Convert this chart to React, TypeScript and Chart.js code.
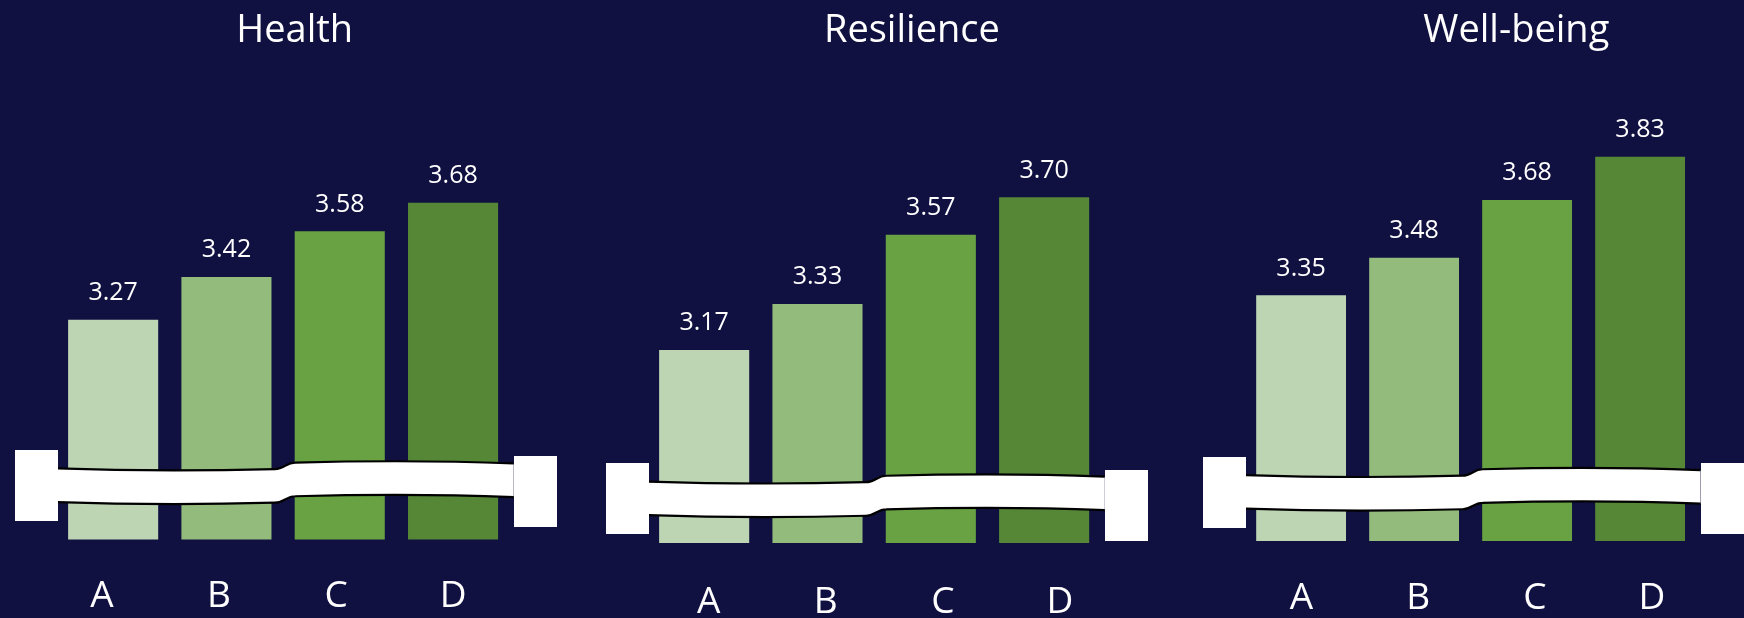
import React, { useEffect, useRef } from "react";
import { Chart, registerables } from "chart.js";

Chart.register(...registerables);

// ---------- data ----------
const categories = ["A", "B", "C", "D"];
const panelTitles = ["Health", "Resilience", "Well-being"];
const healthValues = [3.27, 3.42, 3.58, 3.68];
const resilienceValues = [3.17, 3.33, 3.57, 3.7];
const wellbeingValues = [3.35, 3.48, 3.68, 3.83];
const barColors = ["#BED5B4", "#92BB7C", "#68A243", "#558737"];
const yMin = 2.5;
const yMax = 4.0;
const breakValues = [2.69, 2.655, 2.67];

// ---------- layout ----------
const W = 1744;
const H = 618;
const BG = "#111141";
const FONT = '"Open Sans", "Noto Sans", sans-serif';

const panelLayout = [
  { left: 56.5, right: 509.7, top: 111.4, bottom: 539.5, titleX: 294.7, labelShift: -5.5, labelBaseline: 607 },
  { left: 647.5, right: 1100.8, top: 110.9, bottom: 543, titleX: 911.9, labelShift: 10.2, labelBaseline: 613 },
  { left: 1244.6, right: 1696.6, top: 107.5, bottom: 541, titleX: 1516.3, labelShift: 6, labelBaseline: 609 },
];

const panelValues = [healthValues, resilienceValues, wellbeingValues];

type Pt = [number, number];

function makePanelPlugin(idx: number) {
  return {
    id: "panelDecor" + idx,
    afterDatasetsDraw(chart: any) {
      const ctx = chart.ctx as CanvasRenderingContext2D;
      const area = chart.chartArea;
      const xs = chart.scales.x;
      const ys = chart.scales.y;
      const lay = panelLayout[idx];
      const meta = chart.getDatasetMeta(0);

      // ---- axis break symbol ----
      const yc = ys.getPixelForValue(breakValues[idx]);
      const h = 16.8;
      const dy = 5.8;
      const xL = area.left + 1;
      const xR = area.right + 4;
      const xm = (xs.getPixelForValue(1) + xs.getPixelForValue(2)) / 2 + 2;
      const a = xm - 10;
      const b = xm + 10;
      const seg = (y0: number): Pt[][] => [
        [[xL, y0], [xL + (a - xL) / 3, y0 + 2.5], [xL + (2 * (a - xL)) / 3, y0 + 2.5], [a, y0 + 0.6]],
        [[a, y0 + 0.6], [xm - 1, y0 + 0.6], [xm + 1, y0 - dy], [b, y0 - dy]],
        [[b, y0 - dy], [b + (xR - b) / 3, y0 - dy - 2], [b + (2 * (xR - b)) / 3, y0 - dy - 2], [xR, y0 - dy + 0.8]],
      ];
      const top = seg(yc - h);
      const bot = seg(yc + h);

      ctx.save();
      ctx.beginPath();
      ctx.moveTo(top[0][0][0], top[0][0][1]);
      for (const s of top) ctx.bezierCurveTo(s[1][0], s[1][1], s[2][0], s[2][1], s[3][0], s[3][1]);
      ctx.lineTo(bot[2][3][0], bot[2][3][1]);
      for (let i = bot.length - 1; i >= 0; i--) {
        const s = bot[i];
        ctx.bezierCurveTo(s[2][0], s[2][1], s[1][0], s[1][1], s[0][0], s[0][1]);
      }
      ctx.closePath();
      ctx.fillStyle = "#FFFFFF";
      ctx.fill();

      ctx.strokeStyle = "#000000";
      ctx.lineWidth = 2.2;
      for (const edge of [top, bot]) {
        ctx.beginPath();
        ctx.moveTo(edge[0][0][0], edge[0][0][1]);
        for (const s of edge) ctx.bezierCurveTo(s[1][0], s[1][1], s[2][0], s[2][1], s[3][0], s[3][1]);
        ctx.stroke();
      }

      ctx.fillStyle = "#FFFFFF";
      ctx.fillRect(Math.round(area.left - 42), Math.round(yc - 35), 43, 71);
      ctx.fillRect(Math.round(area.right + 4), Math.round(yc - 28.8), 43, 71);

      // ---- value labels ----
      ctx.fillStyle = "#FFFFFF";
      ctx.textAlign = "center";
      ctx.textBaseline = "alphabetic";
      ctx.font = "25px " + FONT;
      meta.data.forEach((bar: any, i: number) => {
        const v = panelValues[idx][i];
        ctx.fillText(v.toFixed(2), bar.x, bar.y - 19.5);
      });

      // ---- title ----
      ctx.font = "38px " + FONT;
      ctx.fillText(panelTitles[idx], lay.titleX, 41.5);

      // ---- category labels ----
      ctx.font = "37px " + FONT;
      categories.forEach((c, i) => {
        const x = xs.getPixelForValue(i) + (i - 1.5) * 3.8 + lay.labelShift;
        ctx.fillText(c, x, lay.labelBaseline);
      });
      ctx.restore();
    },
  };
}

function Panel({ idx }: { idx: number }) {
  const ref = useRef<HTMLCanvasElement | null>(null);
  useEffect(() => {
    if (!ref.current) return;
    const lay = panelLayout[idx];
    const chart = new Chart(ref.current, {
      type: "bar",
      data: {
        labels: categories,
        datasets: [
          {
            data: panelValues[idx],
            backgroundColor: barColors,
            borderWidth: 0,
            barPercentage: 0.795,
            categoryPercentage: 1,
          },
        ],
      },
      options: {
        responsive: false,
        animation: false,
        events: [],
        layout: {
          padding: { left: lay.left, right: W - lay.right, top: lay.top, bottom: H - lay.bottom },
        },
        scales: {
          x: { display: false },
          y: { display: false, min: yMin, max: yMax },
        },
        plugins: {
          legend: { display: false },
          tooltip: { enabled: false },
          title: { display: false },
        },
      },
      plugins: [makePanelPlugin(idx)],
    } as any);
    return () => chart.destroy();
  }, [idx]);
  return (
    <canvas
      ref={ref}
      width={W}
      height={H}
      style={{ position: "absolute", left: 0, top: 0, width: W, height: H }}
    />
  );
}

export default function App() {
  return (
    <div
      style={{
        position: "fixed",
        left: 0,
        top: 0,
        width: W,
        height: H,
        background: BG,
        overflow: "hidden",
      }}
    >
      {panelTitles.map((_, i) => (
        <Panel key={i} idx={i} />
      ))}
    </div>
  );
}
